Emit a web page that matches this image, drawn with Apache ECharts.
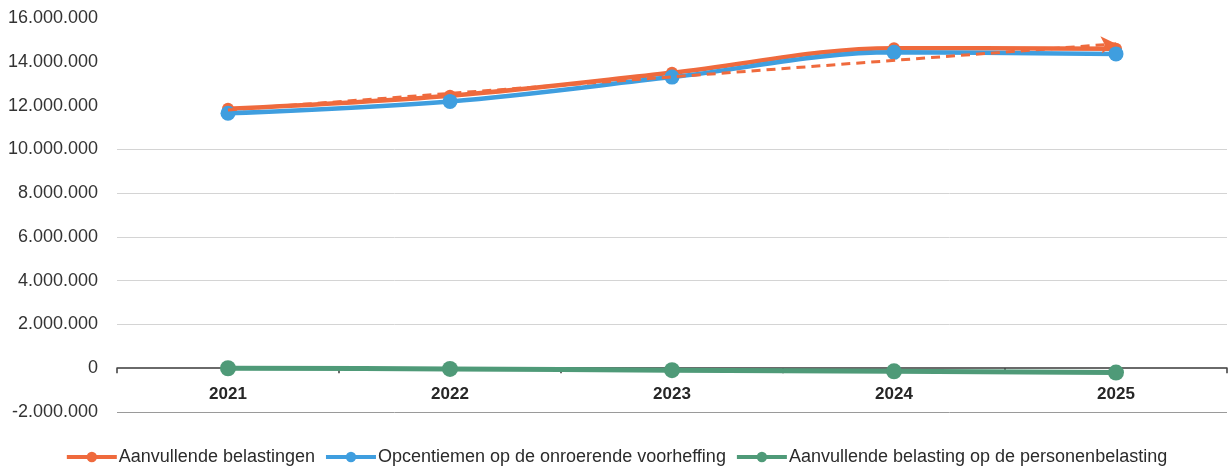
<!DOCTYPE html>
<html>
<head>
<meta charset="utf-8">
<script src="https://cdn.jsdelivr.net/npm/echarts@6/dist/echarts.min.js"></script>
<style>
  html, body { margin: 0; padding: 0; background: #ffffff; }
  #chart { width: 1232px; height: 467px; }
</style>
</head>
<body>
<div id="chart"></div>
<script>
const years = ['2021', '2022', '2023', '2024', '2025'];
const aanvullendeBelastingen = [11850000, 12450000, 13500000, 14620000, 14600000];
const opcentiemen = [11650000, 12190000, 13300000, 14430000, 14360000];
const personenbelasting = [0, -30000, -90000, -140000, -200000];
const trendEnds = [11800000, 14820000];
const seriesNames = [
  'Aanvullende belastingen',
  'Opcentiemen op de onroerende voorheffing',
  'Aanvullende belasting op de personenbelasting'
];
const Y_MIN = -2000000, Y_MAX = 16000000, Y_STEP = 2000000;

const FONT = '"Liberation Sans", Arial, sans-serif';
const ORANGE = '#EF6A3D';
const BLUE = '#3F9EDF';
const GREEN = '#4F9A78';

const GRID = { left: 117, right: 5, top: 18, bottom: 55 };
const CHART_H = 467;
const plotH = CHART_H - GRID.top - GRID.bottom;
const zeroOffset = -plotH * (0 - Y_MIN) / (Y_MAX - Y_MIN);

function fmt(v) {
  const s = Math.abs(v).toString().replace(/\B(?=(\d{3})+(?!\d))/g, '.');
  return (v < 0 ? '-' : '') + s;
}

const chart = echarts.init(document.getElementById('chart'), null, { renderer: 'canvas' });
chart.setOption({
  animation: false,
  backgroundColor: '#ffffff',
  textStyle: { fontFamily: FONT },
  grid: Object.assign({ containLabel: false }, GRID),
  legend: {
    top: 443,
    left: 'center',
    itemWidth: 50,
    itemHeight: 13,
    itemGap: 9,
    lineStyle: { width: 4 },
    textStyle: { fontFamily: FONT, fontSize: 18, color: '#2b2b2b', padding: [0, 0, 0, -3] },
    data: seriesNames
  },
  xAxis: {
    type: 'category',
    data: years,
    boundaryGap: true,
    offset: zeroOffset,
    axisLine: { onZero: false, lineStyle: { color: '#3a3a3a', width: 1.5 } },
    axisTick: { show: true, length: 5, lineStyle: { color: '#3a3a3a', width: 1.5 } },
    axisLabel: { fontFamily: FONT, fontSize: 17, fontWeight: 'bold', color: '#262626', margin: 18 },
    splitLine: { show: false }
  },
  yAxis: {
    type: 'value',
    min: Y_MIN,
    max: Y_MAX,
    interval: Y_STEP,
    axisLine: { show: false },
    axisTick: { show: false },
    axisLabel: { fontFamily: FONT, fontSize: 18, color: '#333333', margin: 19, formatter: fmt },
    splitLine: {
      show: true,
      lineStyle: {
        width: 1,
        color: ['#9a9a9a', 'transparent', '#d4d4d4', '#d4d4d4', '#d4d4d4', '#d4d4d4', '#d4d4d4',
                'transparent', 'transparent', 'transparent']
      }
    }
  },
  series: [
    {
      name: seriesNames[0],
      type: 'line',
      data: aanvullendeBelastingen,
      smooth: 0.35,
      symbol: 'circle',
      symbolSize: 12,
      lineStyle: { color: ORANGE, width: 4.5 },
      itemStyle: { color: ORANGE },
      z: 2,
      markLine: {
        silent: true,
        symbol: ['none', 'arrow'],
        symbolSize: [13, 15],
        label: { show: false },
        lineStyle: { color: ORANGE, type: [9, 6], width: 3 },
        data: [[
          { coord: [years[0], trendEnds[0]] },
          { coord: [years[years.length - 1], trendEnds[1]] }
        ]]
      }
    },
    {
      name: seriesNames[1],
      type: 'line',
      data: opcentiemen,
      smooth: 0.35,
      symbol: 'circle',
      symbolSize: 15,
      lineStyle: { color: BLUE, width: 4.5 },
      itemStyle: { color: BLUE },
      z: 3
    },
    {
      name: seriesNames[2],
      type: 'line',
      data: personenbelasting,
      smooth: 0.35,
      symbol: 'circle',
      symbolSize: 16,
      lineStyle: { color: GREEN, width: 5 },
      itemStyle: { color: GREEN },
      z: 4
    }
  ]
});
</script>
</body>
</html>
